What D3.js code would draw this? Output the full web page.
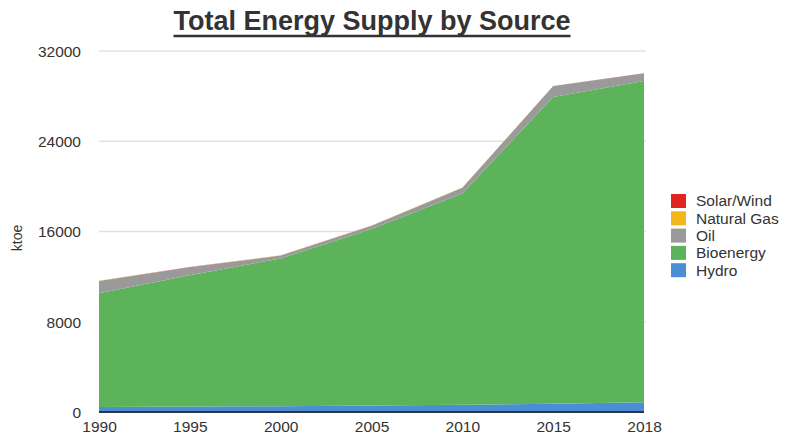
<!DOCTYPE html>
<html>
<head>
<meta charset="utf-8">
<script src="https://cdn.jsdelivr.net/npm/d3@7"></script>
<style>
  html, body { margin: 0; padding: 0; background: #fff; }
  svg { display: block; }
  text { font-family: "Liberation Sans", Arial, Helvetica, sans-serif; fill: #333; }
</style>
</head>
<body>
<svg id="chart" width="791" height="439"></svg>
<script>
// Total energy supply by source, ktoe
const years = ["1990", "1995", "2000", "2005", "2010", "2015", "2018"];
const hydro = [450, 480, 520, 570, 640, 730, 860];
const bioenergy = [10070, 11650, 13090, 15650, 18720, 27200, 28490];
const oil = [1100, 700, 270, 290, 520, 960, 650];
const naturalGas = [12, 12, 12, 12, 12, 12, 12];
const solarWind = [4, 4, 4, 4, 4, 4, 8];
const yTicks = [0, 8000, 16000, 24000, 32000];

const seriesNames = ["Hydro", "Bioenergy", "Oil", "Natural Gas", "Solar/Wind"];
const seriesValues = [hydro, bioenergy, oil, naturalGas, solarWind];
const colors = {
  "Hydro": "#4a8fd3",
  "Bioenergy": "#5cb35a",
  "Oil": "#9a9a9a",
  "Natural Gas": "#f3b71c",
  "Solar/Wind": "#e0261f"
};

const rows = years.map((y, i) => {
  const r = { year: y };
  seriesNames.forEach((s, k) => { r[s] = seriesValues[k][i]; });
  return r;
});

const svg = d3.select("#chart");
const margin = { left: 99, right: 147, top: 51, bottom: 27 };
const W = 791, H = 439;

const x = d3.scalePoint().domain(years).range([margin.left, W - margin.right]).padding(0);
const y = d3.scaleLinear().domain([0, 32000]).range([H - margin.bottom, margin.top]);

// gridlines
svg.append("g")
  .selectAll("line")
  .data(yTicks.filter(t => t > 0))
  .join("line")
  .attr("x1", margin.left).attr("x2", W - margin.right + 2)
  .attr("y1", d => y(d)).attr("y2", d => y(d))
  .attr("stroke", "#e2e2e2").attr("stroke-width", 1.5);

// stacked areas
const stack = d3.stack().keys(seriesNames);
const layers = stack(rows);
const area = d3.area()
  .x(d => x(d.data.year))
  .y0(d => y(d[0]))
  .y1(d => y(d[1]));

svg.append("g")
  .selectAll("path")
  .data(layers)
  .join("path")
  .attr("d", area)
  .attr("fill", d => colors[d.key]);

// baseline
svg.append("line")
  .attr("x1", margin.left).attr("x2", W - margin.right)
  .attr("y1", y(0)).attr("y2", y(0))
  .attr("stroke", "#2d3448").attr("stroke-width", 2);

// y axis labels
const yAxis = d3.axisLeft(y).tickValues(yTicks).tickFormat(d3.format("d")).tickSize(0).tickPadding(18);
const gy = svg.append("g").attr("transform", `translate(${margin.left},0)`).call(yAxis);
gy.select(".domain").remove();
gy.selectAll("text")
  .attr("font-size", 15.5)
  .attr("font-family", "Liberation Sans, Arial, sans-serif")
  .attr("fill", "#2a2a2a")
  .attr("dy", "0.35em");

// x axis labels
const xAxis = d3.axisBottom(x).tickSize(0).tickPadding(9);
const gx = svg.append("g").attr("transform", `translate(0,${y(0)})`).call(xAxis);
gx.select(".domain").remove();
gx.selectAll("text")
  .attr("font-size", 15.5)
  .attr("font-family", "Liberation Sans, Arial, sans-serif")
  .attr("fill", "#2a2a2a");

// y axis title
svg.append("text")
  .attr("transform", "translate(22,238) rotate(-90)")
  .attr("text-anchor", "middle")
  .attr("font-size", 14)
  .attr("fill", "#2a2a2a")
  .text("ktoe");

// title
const title = svg.append("text")
  .attr("x", 372).attr("y", 30)
  .attr("text-anchor", "middle")
  .attr("font-size", 27)
  .attr("font-weight", "bold")
  .attr("fill", "#1a1a1a")
  .text("Total Energy Supply by Source");
const tb = title.node().getBBox();
svg.append("line")
  .attr("x1", tb.x).attr("x2", tb.x + tb.width)
  .attr("y1", 36).attr("y2", 36)
  .attr("stroke", "#333").attr("stroke-width", 2.5);

// legend
const legendOrder = ["Solar/Wind", "Natural Gas", "Oil", "Bioenergy", "Hydro"];
const lg = svg.append("g").attr("transform", "translate(671,194)");
const item = lg.selectAll("g")
  .data(legendOrder)
  .join("g")
  .attr("transform", (d, i) => `translate(0,${i * 17.3})`);
item.append("rect")
  .attr("width", 15).attr("height", 14)
  .attr("fill", d => colors[d]);
item.append("text")
  .attr("x", 25).attr("y", 7).attr("dy", "0.35em")
  .attr("font-size", 15.5)
  .attr("fill", "#2a2a2a")
  .text(d => d);
</script>
</body>
</html>
